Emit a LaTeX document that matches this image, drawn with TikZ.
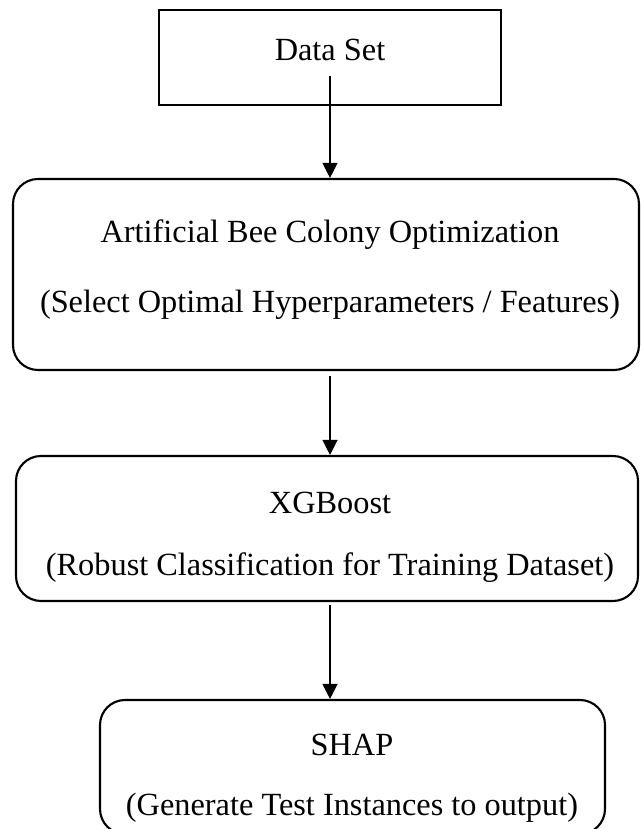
\documentclass[tikz,border=0pt]{standalone}
\usepackage{fontspec}
\setmainfont{Liberation Serif}
\usetikzlibrary{arrows.meta}

\begin{document}
\begin{tikzpicture}[
    font=\fontsize{9.2pt}{11pt}\selectfont,
    plainbox/.style={draw,line width=0.8pt,inner sep=0pt},
    roundbox/.style={draw,line width=0.6pt,rounded corners=0.25cm,inner sep=0pt},
    caption/.style={anchor=base,inner sep=0pt},
    flow/.style={-{Triangle[length=1.5mm,width=1.5mm]},line width=0.35pt}
]
    % page of 6.4 x 8.29, origin bottom left
    \useasboundingbox (0,0) rectangle (6.4,8.29);

    % data set, plain rectangle on top
    \node[plainbox,minimum width=3.42cm,minimum height=0.95cm] (dataset) at (3.30,7.715) {};
    \node[caption] (datasetName) at (3.30,7.68) {Data Set};

    % artificial bee colony
    \node[roundbox,minimum width=6.26cm,minimum height=1.91cm] (abc) at (3.26,5.545) {};
    \node[caption] (abcName) at (3.30,5.865) {Artificial Bee Colony Optimization};
    \node[caption] (abcTask) at (3.30,5.165) {(Select Optimal Hyperparameters / Features)};

    % xgboost
    \node[roundbox,minimum width=6.22cm,minimum height=1.45cm] (xgb) at (3.27,3.005) {};
    \node[caption] (xgbName) at (3.30,3.155) {XGBoost};
    \node[caption] (xgbTask) at (3.30,2.535) {(Robust Classification for Training Dataset)};

    % shap, cut by the lower edge
    \node[roundbox,minimum width=5.05cm,minimum height=1.34cm] (shap) at (3.525,0.62) {};
    \node[caption] (shapName) at (3.52,0.735) {SHAP};
    \node[caption] (shapTask) at (3.52,0.135) {(Generate Test Instances to output)};

    % arrows
    \draw[flow] ([yshift=0.3cm]dataset.south) -- (abc.north -| dataset.south);
    \draw[flow] ([yshift=-0.05cm]abc.south -| dataset.south) -- (xgb.north -| dataset.south);
    \draw[flow] ([yshift=-0.03cm]xgb.south -| dataset.south) -- (shap.north -| dataset.south);
\end{tikzpicture}
\end{document}
